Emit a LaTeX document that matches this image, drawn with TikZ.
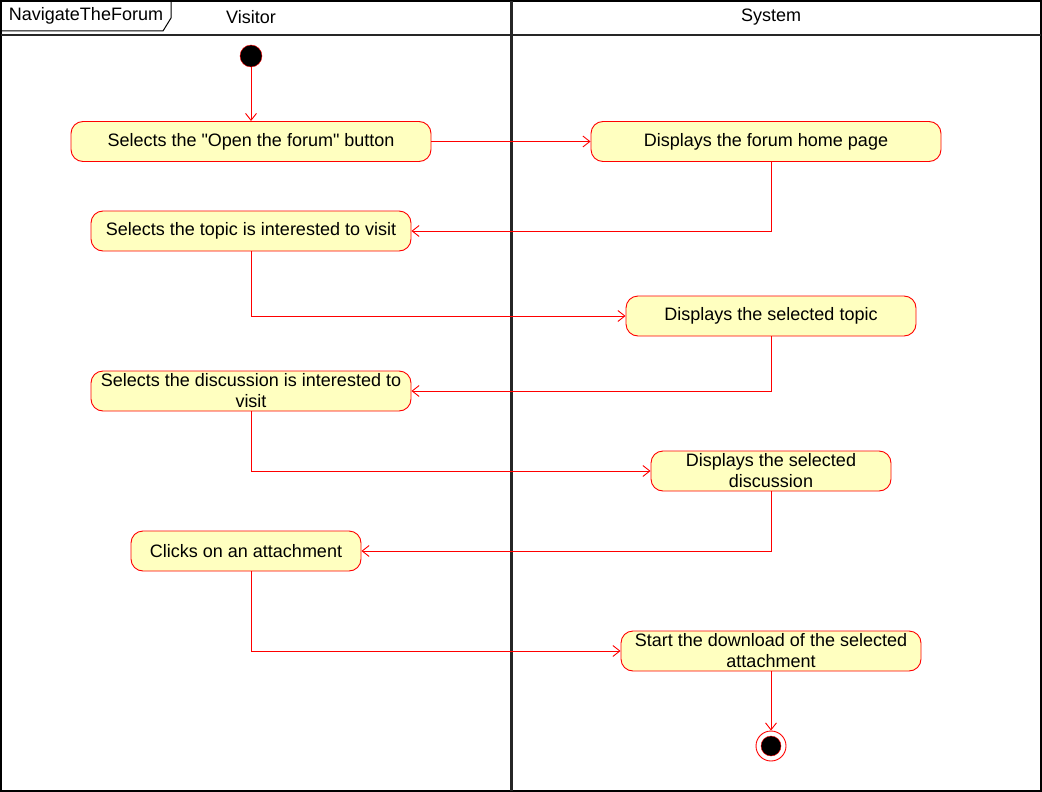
\documentclass[tikz,border=0pt]{standalone}
\usepackage{fontspec}
\setmainfont{Liberation Sans}
\usetikzlibrary{arrows.meta}
\definecolor{actfill}{HTML}{FFFFC0}
\definecolor{actline}{HTML}{FF0000}

\begin{document}
\begin{tikzpicture}[x=1pt, y=-1pt, font=\fontsize{18}{21}\selectfont,
    act/.style={draw=actline, fill=actfill, line width=0.9pt, rounded corners=12pt, minimum height=40pt, align=center, inner sep=0pt},
    flow/.style={draw=actline, line width=0.9pt, -{Straight Barb[length=7pt,width=11pt]}},
    lane/.style={line width=2.4pt, black!85}]
    \useasboundingbox (0,0) rectangle (1042,792);
    % frame, tab and swimlanes
    \draw[line width=1.6pt] (1,1) rectangle (1041,791);
    \draw[lane] (1,35) -- (1041,35);
    \draw[lane] (511.5,1) -- (511.5,791);
    \draw[line width=1pt] (1,31) -- (163,31) -- (171,18) -- (171,1);
    \node (frame) at (86,16) {NavigateTheForum};
    \node (visitor) at (251,17) {Visitor};
    \node (system) at (771,17) {System};
    % activities
    \node (start) [circle, fill=black, draw=actline, minimum size=22pt, inner sep=0pt] at (251,56) {};
    \node (openbtn) [act, minimum width=360pt] at (251,141.5) {Selects the \textquotedbl Open the forum\textquotedbl{} button};
    \node (homepage) [act, minimum width=350pt] at (766,141.5) {Displays the forum home page};
    \node (picktopic) [act, minimum width=320pt] at (251,231) {Selects the topic is interested to visit};
    \node (topic) [act, minimum width=290pt] at (771,316) {Displays the selected topic};
    \node (pickdisc) [act, minimum width=320pt] at (251,391) {Selects the discussion is interested to\\visit};
    \node (disc) [act, minimum width=240pt] at (771,471) {Displays the selected\\discussion};
    \node (clickatt) [act, minimum width=230pt] at (246,551) {Clicks on an attachment};
    \node (download) [act, minimum width=300pt] at (771,651) {Start the download of the selected\\attachment};
    \node (stop) [circle, draw=actline, fill=white, line width=0.9pt, minimum size=30pt, inner sep=0pt] at (771,746) {};
    \node (stopdot) [circle, fill=black, draw=actline, minimum size=20pt, inner sep=0pt] at (stop) {};
    % transitions
    \path[flow]
    (start) edge (openbtn)
    (openbtn) edge (homepage)
    (download) edge (stop)
    ;
    \draw[flow] (homepage.south -| topic) |- (picktopic);
    \draw[flow] (picktopic) |- (topic);
    \draw[flow] (topic) |- (pickdisc);
    \draw[flow] (pickdisc) |- (disc);
    \draw[flow] (disc) |- (clickatt);
    \draw[flow] (clickatt.south -| pickdisc) |- (download);
\end{tikzpicture}
\end{document}
